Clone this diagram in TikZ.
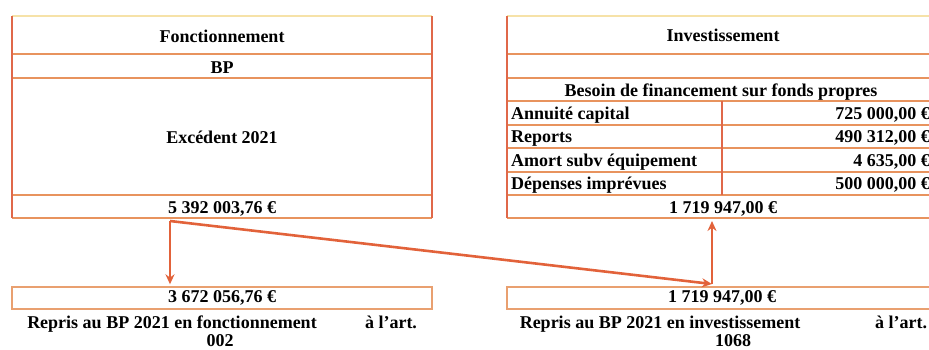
\documentclass[tikz,border=0pt]{standalone}
\usepackage{fontspec}
\setmainfont{Liberation Serif}
\usetikzlibrary{arrows.meta}
\definecolor{hline}{HTML}{E8935E}
\definecolor{vline}{HTML}{E0684A}
\definecolor{topline}{HTML}{F6E2A8}
\definecolor{arrowc}{HTML}{E2623A}
\definecolor{boxc}{HTML}{E9A070}
\newcommand{\apos}{{\char"0027}}
\tikzset{
  txt/.style={font=\fontsize{18}{20}\selectfont\bfseries, inner sep=0pt, anchor=base},
  hl/.style={draw=hline, line width=1.8pt},
  vl/.style={draw=vline, line width=1.4pt},
  tl/.style={draw=topline, line width=1.4pt},
  lowbox/.style={draw=boxc, line width=1.4pt, minimum height=22pt, inner sep=0pt,
     font=\fontsize{18}{20}\selectfont\bfseries},
  arr/.style={draw=arrowc, line width=2.6pt, -{Stealth[length=10pt,width=9pt]}}
}
\begin{document}
\begin{tikzpicture}[x=1pt,y=-1pt]
\useasboundingbox (0,0) rectangle (929,349);
\begin{scope}
\clip (0,0) rectangle (929,349);
% ---------- left table ----------
\draw[tl] (12,16) -- (432,16);
\draw[hl] (12,54) -- (432,54);
\draw[hl] (12,78) -- (432,78);
\draw[hl] (12,195) -- (432,195);
\draw[hl] (12,218) -- (432,218);
\draw[vl] (12,16) -- (12,218);
\draw[vl] (432,16) -- (432,218);
\node[txt] (fonc) at (222,42) {Fonctionnement};
\node[txt] (bp) at (222,73) {BP};
\node[txt] (exc) at (222,143) {Excédent 2021};
\node[txt] (lval) at (222,213) {5 392 003,76 €};
% ---------- right table ----------
\draw[tl] (507,16) -- (940,16);
\draw[hl] (507,54) -- (940,54);
\draw[hl] (507,78) -- (940,78);
\draw[hl] (507,101) -- (940,101);
\draw[hl] (507,125) -- (940,125);
\draw[hl] (507,148) -- (940,148);
\draw[hl] (507,172) -- (940,172);
\draw[hl] (507,195) -- (940,195);
\draw[hl] (507,218) -- (940,218);
\draw[vl] (507,16) -- (507,218);
\draw[vl] (722,101) -- (722,195);
\node[txt] (inv) at (723,41) {Investissement};
\node[txt] (bes) at (721,96) {Besoin de financement sur fonds propres};
\node[txt, anchor=base west] (r1) at (511,119) {Annuité capital};
\node[txt, anchor=base west] (r2) at (511,142) {Reports};
\node[txt, anchor=base west] (r3) at (511,166) {Amort subv équipement};
\node[txt, anchor=base west] (r4) at (511,189) {Dépenses imprévues};
\node[txt, anchor=base east] (v1) at (930,119) {725 000,00 €};
\node[txt, anchor=base east] (v2) at (930,142) {490 312,00 €};
\node[txt, anchor=base east] (v3) at (930,166) {4 635,00 €};
\node[txt, anchor=base east] (v4) at (930,189) {500 000,00 €};
\node[txt] (rtot) at (723,213) {1 719 947,00 €};
% ---------- lower boxes ----------
\node[lowbox, minimum width=420pt] (lbox) at (222,298) {3 672 056,76 €};
\node[lowbox, minimum width=430pt] (rbox) at (722,298) {1 719 947,00 €};
\node[txt] (lrep) at (172,328) {Repris au BP 2021 en fonctionnement};
\node[txt] (lart) at (391,328) {à l\apos art.};
\node[txt] (l002) at (220,346) {002};
\node[txt] (rrep) at (660,328) {Repris au BP 2021 en investissement};
\node[txt] (rart) at (901,328) {à l\apos art.};
\node[txt] (r1068) at (733,346) {1068};
\end{scope}
% ---------- arrows ----------
\coordinate (split) at (170,221);
\coordinate (join) at (712,284);
\coordinate (rtab) at (712,221);
\draw[arr, shorten >=2pt] (split) -- (split |- lbox.north);
\draw[arr] (split) -- (join);
\draw[arr] (join) -- (rtab);
\end{tikzpicture}
\end{document}
